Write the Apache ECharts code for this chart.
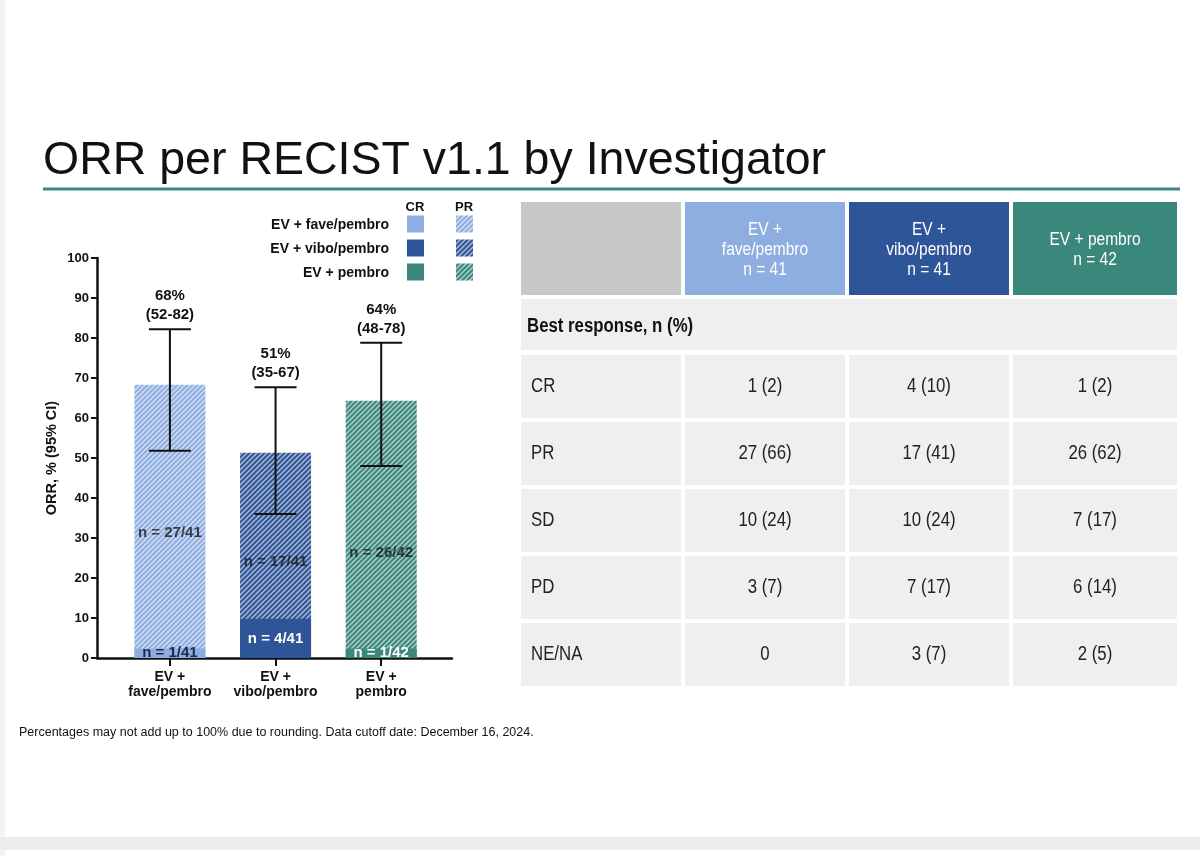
<!DOCTYPE html>
<html><head><meta charset="utf-8">
<script src="https://cdn.jsdelivr.net/npm/echarts@6/dist/echarts.min.js"></script>
<style>html,body{margin:0;padding:0;background:#fff}#c{width:1200px;height:856px}</style>
</head><body><div id="c"></div>
<script>
// ---------- data ----------
const titleText = 'ORR per RECIST v1.1 by Investigator';
const footnote = 'Percentages may not add up to 100% due to rounding. Data cutoff date: December 16, 2024.';
const arms = ['EV +\nfave/pembro', 'EV +\nvibo/pembro', 'EV +\npembro'];
const legendArms = ['EV + fave/pembro', 'EV + vibo/pembro', 'EV + pembro'];
const legendCols = ['CR', 'PR'];
const crValues = [2.4, 9.8, 2.4];
const prValues = [65.9, 41.5, 61.9];
const crCounts = ['n = 1/41', 'n = 4/41', 'n = 1/42'];
const prCounts = ['n = 27/41', 'n = 17/41', 'n = 26/42'];
const prCountLevel = [31.2, 24, 26.2];
const orrText = ['68%', '51%', '64%'];
const ciText = ['(52-82)', '(35-67)', '(48-78)'];
const ciLow = [51.8, 36.0, 48.0];
const ciHigh = [82.2, 67.7, 78.8];
const yAxisName = 'ORR, % (95% CI)';
const tableHeaders = ['EV +\nfave/pembro\nn = 41', 'EV +\nvibo/pembro\nn = 41', 'EV + pembro\nn = 42'];
const sectionLabel = 'Best response, n (%)';
const responseRows = ['CR', 'PR', 'SD', 'PD', 'NE/NA'];
const faveValues = ['1 (2)', '27 (66)', '10 (24)', '3 (7)', '0'];
const viboValues = ['4 (10)', '17 (41)', '10 (24)', '7 (17)', '3 (7)'];
const pembroValues = ['1 (2)', '26 (62)', '7 (17)', '6 (14)', '2 (5)'];

// ---------- styles ----------
const armColors = ['#8eaee2', '#2e5597', '#3a877c'];
const FONT = '"Liberation Sans", Arial, sans-serif';
const INK = '#111';
const NARROW_SCALE = 0.84;

function hatch(base) {
  const s = 5;
  const c = document.createElement('canvas');
  c.width = c.height = s;
  const g = c.getContext('2d');
  g.fillStyle = base; g.fillRect(0, 0, s, s);
  g.strokeStyle = 'rgba(255,255,255,0.6)';
  g.lineWidth = 1.5;
  g.beginPath();
  g.moveTo(0, s); g.lineTo(s, 0);
  g.moveTo(-1, 1); g.lineTo(1, -1);
  g.moveTo(s - 1, s + 1); g.lineTo(s + 1, s - 1);
  g.stroke();
  return { image: c, repeat: 'repeat' };
}

const chart = echarts.init(document.getElementById('c'), null, { renderer: 'canvas' });

// ---------- graphics: title, rule, legend, table, footnote ----------
const graphics = [];
graphics.push({ type: 'rect', shape: { x: 0, y: 0, width: 5, height: 856 }, style: { fill: '#f3f3f3' }, silent: true });
graphics.push({ type: 'rect', shape: { x: 0, y: 837, width: 1200, height: 13 }, style: { fill: '#ececec' }, silent: true });
graphics.push({ type: 'text', x: 43, y: 161, style: { text: titleText, font: '46.5px ' + FONT, fill: INK, verticalAlign: 'middle' } });
graphics.push({ type: 'line', shape: { x1: 43, y1: 189, x2: 1180, y2: 189 }, style: { stroke: '#3c8a81', lineWidth: 3 } });
graphics.push({ type: 'text', x: 19, y: 733, style: { text: footnote, font: '12.5px ' + FONT, fill: INK, verticalAlign: 'middle' } });

// legend
legendCols.forEach((t, k) => {
  graphics.push({ type: 'text', x: 415 + k * 49, y: 207, style: { text: t, font: 'bold 13px ' + FONT, fill: INK, align: 'center', verticalAlign: 'middle' } });
});
legendArms.forEach((t, i) => {
  const cy = 224 + i * 24;
  graphics.push({ type: 'text', x: 389, y: cy + 1, style: { text: t, font: 'bold 14px ' + FONT, fill: INK, align: 'right', verticalAlign: 'middle' } });
  graphics.push({ type: 'rect', shape: { x: 407, y: cy - 8.5, width: 17, height: 17 }, style: { fill: armColors[i] } });
  graphics.push({ type: 'rect', shape: { x: 456, y: cy - 8.5, width: 17, height: 17 }, style: { fill: hatch(armColors[i]) } });
});

// table
const colX = [521, 685, 849, 1013];
const colW = [160, 160, 160, 164];
const headerFills = ['#c8c8c8'].concat(armColors);
function narrowText(x, y, text, size, opts) {
  return Object.assign({ type: 'text', x: x, y: y, scaleX: NARROW_SCALE,
    style: Object.assign({ text: text, font: size + 'px ' + FONT, fill: '#222', verticalAlign: 'middle' }, opts || {}) });
}
headerFills.forEach((f, k) => {
  graphics.push({ type: 'rect', shape: { x: colX[k], y: 202, width: colW[k], height: 93 }, style: { fill: f } });
});
tableHeaders.forEach((t, k) => {
  graphics.push(narrowText(colX[k + 1] + colW[k + 1] / 2, 250, t, 18.5, { fill: '#fff', align: 'center', lineHeight: 20 }));
});
graphics.push({ type: 'rect', shape: { x: 521, y: 299, width: 656, height: 51 }, style: { fill: '#efefef' } });
graphics.push(narrowText(527, 326, sectionLabel, 20, { font: 'bold 20px ' + FONT, fill: INK }));
const tableCols = [faveValues, viboValues, pembroValues];
responseRows.forEach((r, j) => {
  const y = 355 + j * 67;
  for (let k = 0; k < 4; k++) {
    graphics.push({ type: 'rect', shape: { x: colX[k], y: y, width: colW[k], height: 63 }, style: { fill: '#efefef' } });
  }
  graphics.push(narrowText(531, y + 31, r, 20));
  tableCols.forEach((vals, k) => {
    graphics.push(narrowText(colX[k + 1] + colW[k + 1] / 2, y + 31, vals[j], 20, { align: 'center' }));
  });
});

// ---------- chart ----------
const idx = [0, 1, 2];
const orrTotals = crValues.map((v, i) => v + prValues[i]);
const option = {
  backgroundColor: '#fff',
  animation: false,
  grid: { left: 97, top: 258, width: 355, height: 400, containLabel: false, outerBoundsMode: 'none' },
  xAxis: {
    type: 'value', min: -0.69, max: 2.67,
    splitLine: { show: false },
    axisLine: { show: true, onZero: false, lineStyle: { color: INK, width: 2.5 } },
    axisTick: { show: true, customValues: idx, length: 8, lineStyle: { color: INK, width: 2 } },
    axisLabel: { show: true, customValues: idx, formatter: v => arms[Math.round(v)], color: INK, fontFamily: FONT, fontWeight: 'bold', fontSize: 14, lineHeight: 15, margin: 12 }
  },
  yAxis: {
    type: 'value', min: 0, max: 100, interval: 10,
    name: yAxisName, nameLocation: 'middle', nameGap: 38, nameRotate: 90, nameMoveOverlap: false,
    nameTextStyle: { color: INK, fontFamily: FONT, fontWeight: 'bold', fontSize: 14.5 },
    splitLine: { show: false },
    axisLine: { show: true, onZero: false, lineStyle: { color: INK, width: 2.5 } },
    axisTick: { show: true, length: 6, lineStyle: { color: INK, width: 2 } },
    axisLabel: { color: INK, fontFamily: FONT, fontWeight: 'bold', fontSize: 13, margin: 8 }
  },
  series: [
    {
      name: 'PR', type: 'bar', barWidth: 71, z: 2,
      data: orrTotals.map((v, i) => ({ value: [i, v], itemStyle: { color: hatch(armColors[i]) } }))
    },
    {
      name: 'CR', type: 'bar', barWidth: 71, barGap: '-100%', z: 3,
      data: crValues.map((v, i) => ({ value: [i, v], itemStyle: { color: armColors[i] }, label: { color: i === 0 ? '#1c2b4a' : '#fff' } })),
      label: { show: true, position: 'inside', formatter: p => crCounts[p.dataIndex], fontFamily: FONT, fontWeight: 'bold', fontSize: 15 }
    },
    {
      name: 'PR count', type: 'scatter', symbolSize: 1, z: 5,
      itemStyle: { color: 'rgba(0,0,0,0)' },
      data: prCountLevel.map((v, i) => [i, v]),
      label: { show: true, position: 'inside', formatter: p => prCounts[p.dataIndex], color: '#1a1a1a', fontFamily: FONT, fontWeight: 'bold', fontSize: 15 }
    },
    {
      name: 'CI', type: 'custom', z: 4,
      data: ciLow.map((l, i) => [i, l, ciHigh[i]]),
      encode: { x: 0, y: [1, 2] },
      renderItem: (params, api) => {
        const i = params.dataIndex;
        const lo = api.coord([api.value(0), api.value(1)]);
        const hi = api.coord([api.value(0), api.value(2)]);
        const w = 21;
        const st = { stroke: INK, lineWidth: 2 };
        return {
          type: 'group', children: [
            { type: 'line', shape: { x1: lo[0], y1: lo[1], x2: hi[0], y2: hi[1] }, style: st },
            { type: 'line', shape: { x1: lo[0] - w, y1: lo[1], x2: lo[0] + w, y2: lo[1] }, style: st },
            { type: 'line', shape: { x1: hi[0] - w, y1: hi[1], x2: hi[0] + w, y2: hi[1] }, style: st },
            { type: 'text', x: hi[0], y: hi[1] - 14, style: { text: ciText[i], font: 'bold 15px ' + FONT, fill: INK, align: 'center', verticalAlign: 'middle' } },
            { type: 'text', x: hi[0], y: hi[1] - 33, style: { text: orrText[i], font: 'bold 15px ' + FONT, fill: INK, align: 'center', verticalAlign: 'middle' } }
          ]
        };
      }
    }
  ],
  graphic: graphics
};
chart.setOption(option);
</script></body></html>
